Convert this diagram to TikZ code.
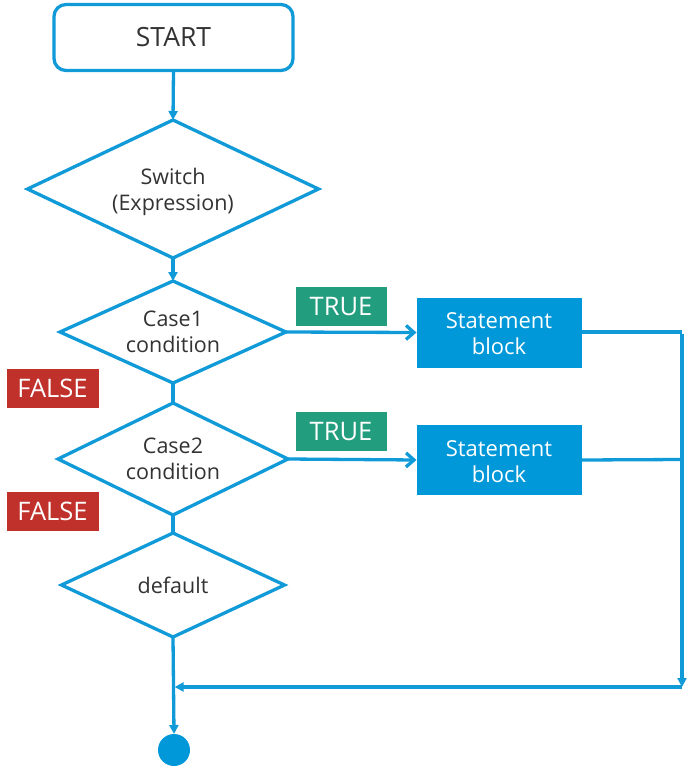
\documentclass[tikz,border=0pt]{standalone}
\usepackage{fontspec}
\setmainfont{Open Sans}
\usetikzlibrary{shapes.geometric,arrows.meta}
\definecolor{flowblue}{RGB}{16,154,216}
\definecolor{blockblue}{RGB}{0,152,216}
\definecolor{truegreen}{RGB}{34,158,126}
\definecolor{falsered}{RGB}{192,49,43}
\definecolor{txt}{RGB}{51,51,51}
\tikzset{
  conn/.style={draw=flowblue, line width=3.3pt},
  solidarrow/.style={conn, -{Triangle[length=9pt,width=9pt]}},
  openarrow/.style={conn, -{Straight Barb[length=8pt,width=14pt,line width=3.3pt]}},
  dec/.style={shape=diamond, draw=flowblue, line width=3.3pt, fill=white, inner sep=0pt, outer sep=0pt,
     align=center, text=txt, font=\fontsize{21.5}{25.5}\selectfont},
  stmt/.style={rectangle, fill=blockblue, inner sep=0pt, outer sep=0pt, minimum width=165pt, minimum height=70pt,
     align=center, text=white, font=\fontsize{22}{26}\selectfont},
  tag/.style={rectangle, inner sep=0pt, outer sep=0pt, text=white, font=\fontsize{25.5}{30}\selectfont},
}
\begin{document}
\begin{tikzpicture}[x=1pt,y=-1pt]
\useasboundingbox (0,0) rectangle (693,768);
% start
\node[draw=flowblue, line width=3.3pt, rounded corners=12pt, minimum width=239pt, minimum height=66pt,
      inner sep=0pt, outer sep=0pt, text=txt, font=\fontsize{26.5}{30}\selectfont] (start) at (173.5,37.5) {START};
% diamonds
\node[dec, minimum width=291pt, minimum height=138pt, shape aspect=2.1] (switch) at (173,189) {\rule{0pt}{22pt}Switch\\(Expression)};
\node[dec, minimum width=226pt, minimum height=102pt, shape aspect=2.2] (case1) at (173,332) {Case1\\condition};
\node[dec, minimum width=230pt, minimum height=112pt, shape aspect=2.05] (case2) at (173,459) {Case2\\condition};
\node[dec, minimum width=223pt, minimum height=104pt, shape aspect=2.15] (default) at (173,585) {default};
% statement blocks
\node[stmt] (stmt1) at (499,332.5) {\rule{0pt}{19pt}Statement\\block};
\node[stmt] (stmt2) at (499,460) {\rule{0pt}{19pt}Statement\\block};
% labels
\node[tag, fill=truegreen, minimum width=91pt, minimum height=39pt] (true1) at (341,306.5) {TRUE};
\node[tag, fill=truegreen, minimum width=91pt, minimum height=39pt] (true2) at (341,431.5) {TRUE};
\node[tag, fill=falsered, minimum width=92pt, minimum height=39pt] (false1) at (52.5,388.5) {FALSE};
\node[tag, fill=falsered, minimum width=92pt, minimum height=39pt] (false2) at (52.5,511) {FALSE};
% end circle
\node[circle, fill=blockblue, minimum size=32pt, inner sep=0pt, outer sep=0pt] (end) at (174,750) {};
% coordinates
\coordinate (r1) at (682,332);
\coordinate (r2) at (682,459.5);
\coordinate (r3) at (682,687);
\coordinate (m) at (173,687);
% connectors
\draw[solidarrow] (start.south) -- (switch.north);
\draw[solidarrow] (switch.south) -- (case1.north);
\draw[conn] (case1.south) -- (case2.north);
\draw[conn] (case2.south) -- (default.north);
\draw[solidarrow] (default.south) -- (end.north);
\draw[openarrow] (case1.east) -- (stmt1.west);
\draw[openarrow] (case2.east) -- (stmt2.west);
\draw[conn] (stmt1.east |- r1) -- (r1);
\draw[conn] (stmt2.east) -- (r2);
\draw[solidarrow] ([yshift=-1.65pt]r1) -- (r3);
\draw[solidarrow] (r3) -- ([xshift=1.65pt]m);
\end{tikzpicture}
\end{document}
